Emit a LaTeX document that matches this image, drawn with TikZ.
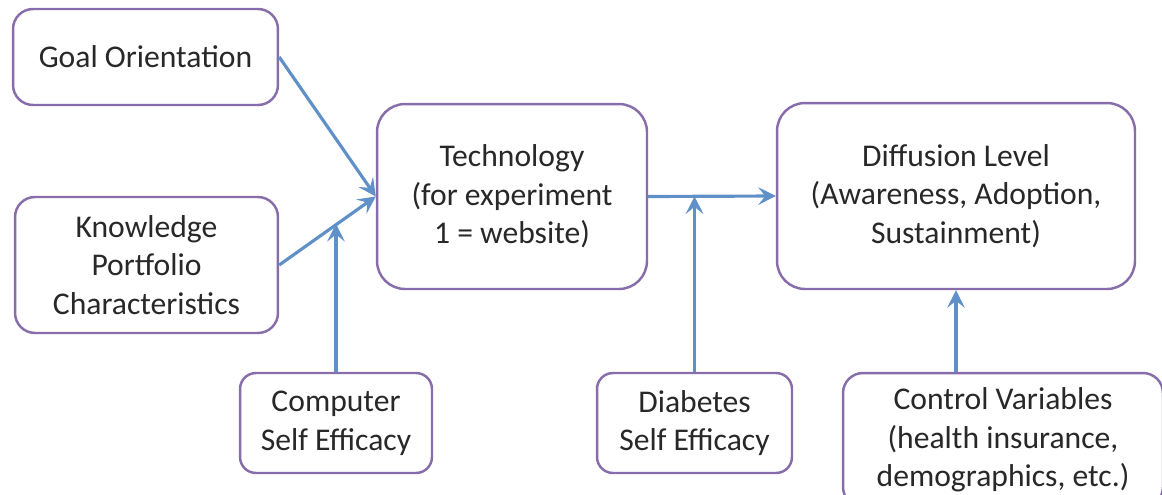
\documentclass[tikz,border=0pt]{standalone}
\usepackage{fontspec}
\setmainfont{Carlito}
\usetikzlibrary{arrows.meta,calc}
\definecolor{BoxLine}{RGB}{135,110,170}
\definecolor{FlowBlue}{RGB}{95,145,200}
\definecolor{TextGray}{RGB}{40,40,40}
\tikzset{
  factor/.style={draw=BoxLine,line width=1.4pt,rounded corners=0.4cm,fill=white,align=center,text=TextGray,font=\fontsize{18}{22}\selectfont,inner sep=0pt},
  bigfactor/.style={factor,rounded corners=0.56cm},
  smallfactor/.style={factor,rounded corners=0.32cm},
  flow/.style={-{Stealth[length=10pt,width=10pt,inset=4pt]},draw=FlowBlue,line width=1.8pt}
}
\begin{document}
\begin{tikzpicture}[x=0.02cm,y=-0.02cm]
\useasboundingbox (0,0) rectangle (1162,494);

\node[factor,minimum width=5.3cm,minimum height=1.92cm] (goal) at (145.5,57) {Goal Orientation};
\node[factor,minimum width=5.26cm,minimum height=2.72cm] (know) at (146.5,265) {Knowledge\\Portfolio\\Characteristics};
\node[smallfactor,minimum width=3.84cm,minimum height=2cm] (comp) at (336,423) {Computer\\Self Efficacy};
\node[bigfactor,minimum width=5.4cm,minimum height=3.7cm] (tech) at (512,196.5) {Technology\\(for experiment\\1 = website)};
\node[bigfactor,minimum width=7.16cm,minimum height=3.72cm] (diff) at (956,196) {Diffusion Level\\(Awareness, Adoption,\\Sustainment)};
\node[smallfactor,minimum width=3.9cm,minimum height=2cm] (dia) at (694.5,423) {Diabetes\\Self Efficacy};
\node[factor,minimum width=6.4cm,minimum height=2.68cm] (ctrl) at (1003,440) {Control Variables\\(health insurance,\\demographics, etc.)};

% joins on the horizontal / slanted lines
\coordinate (kp) at ($(know.east)!0.6!(tech.west)$);
\coordinate (td) at ($(tech.east)!0.38!(diff.west)$);

\draw[flow] (goal.east) -- (tech.west);
\draw[flow] (know.east) -- (tech.west);
\draw[flow] (comp.north) -- (comp.north |- kp);
\draw[flow] (tech.east) -- (diff.west);
\draw[flow] (dia.north |- comp.north) -- (dia.north |- td);
\draw[flow] (diff.south |- ctrl.north) -- (diff.south);
\end{tikzpicture}
\end{document}
